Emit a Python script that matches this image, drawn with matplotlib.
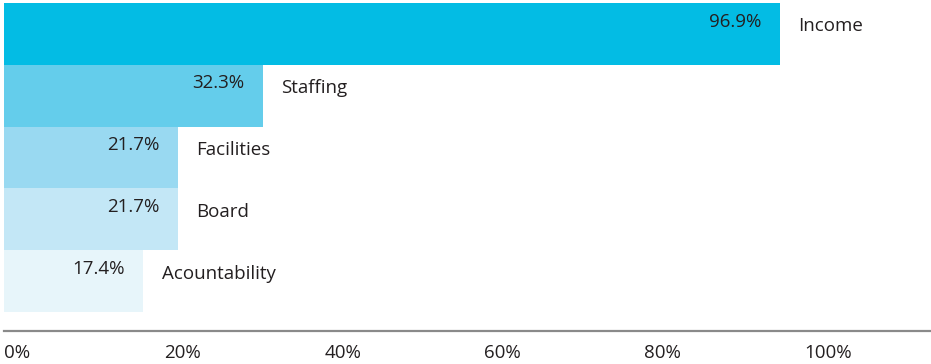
import matplotlib.pyplot as plt

categories = ['Income', 'Staffing', 'Facilities', 'Board', 'Acountability']
values = [96.9, 32.3, 21.7, 21.7, 17.4]
colours = ['#03bce4', '#64cdeb', '#99d9f1', '#c3e7f6', '#e7f5fa']
ticks = [0, 20, 40, 60, 80, 100]

plt.rcParams['font.family'] = ['Open Sans', 'DejaVu Sans']

fig = plt.figure(figsize=(9.31, 3.64), dpi=100)
ax = fig.add_axes([4 / 931, 1 - 331 / 364, 1 - 4 / 931, 328 / 364])

ypos = list(range(len(categories)))[::-1]
ax.barh(ypos, values, height=1.0, color=colours, linewidth=0)

for y, v, name in zip(ypos, values, categories):
    ax.text(v - 2.3, y + 0.2, f'{v:.1f}%', ha='right', va='center',
            fontsize=13.5, color='#231f20')
    ax.text(v + 2.3, y + 0.12, name, ha='left', va='center',
            fontsize=13.5, color='#231f20')

ax.set_xlim(0, 115.8)
ax.set_ylim(-0.806, 4.5)
ax.set_yticks([])
ax.set_xticks(ticks)
ax.set_xticklabels([f'{t}%' for t in ticks], ha='left', fontsize=13.5,
                   color='#231f20')
ax.tick_params(axis='x', length=0, pad=9)

for side in ['top', 'right', 'left']:
    ax.spines[side].set_visible(False)
ax.spines['bottom'].set_color('#8a8a8a')
ax.spines['bottom'].set_linewidth(1.6)

fig.savefig('out.png', dpi=100)
